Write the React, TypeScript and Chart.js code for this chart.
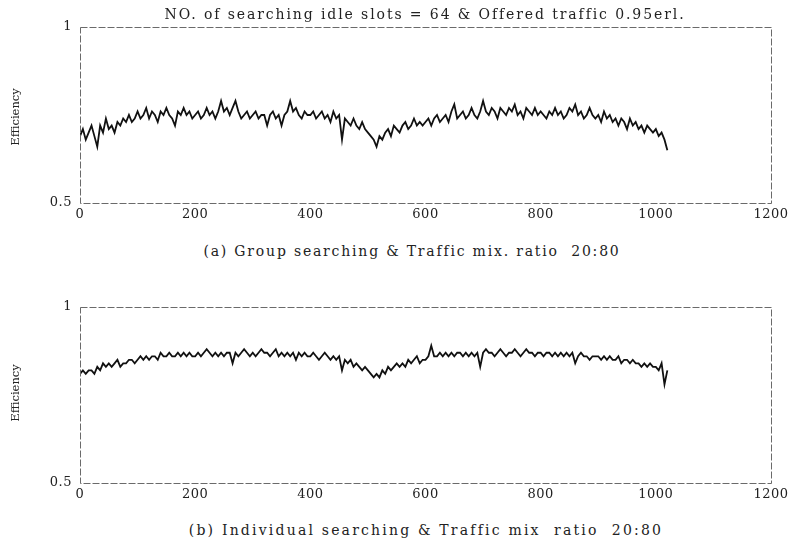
import React, { useEffect, useRef } from "react";
import { Chart, registerables } from "chart.js";

Chart.register(...registerables);

const TITLE = "NO. of searching idle slots = 64 & Offered traffic 0.95erl.";
const CAPTION_A = "(a) Group searching & Traffic mix. ratio  20:80";
const CAPTION_B = "(b) Individual searching & Traffic mix  ratio  20:80";
const Y_LABEL = "Efficiency";

const X_TICKS = [0, 200, 400, 600, 800, 1000, 1200];
const Y_TICKS = [0.5, 1];
const SAMPLE_STEP = 5; // slot index step between the samples

// (a) Group searching — sampled every 5 slots from 0 to 1020
const groupEff = [
  0.69, 0.71, 0.68, 0.70, 0.72, 0.69, 0.66, 0.72, 0.70, 0.74, 0.71, 0.72, 0.70, 0.73, 0.72, 0.74, 0.73, 0.75, 0.73, 0.74,
  0.76, 0.74, 0.75, 0.77, 0.74, 0.76, 0.75, 0.73, 0.76, 0.75, 0.77, 0.75, 0.74, 0.72, 0.76, 0.75, 0.77, 0.75, 0.76, 0.74,
  0.75, 0.76, 0.74, 0.75, 0.77, 0.75, 0.76, 0.74, 0.76, 0.79, 0.76, 0.77, 0.75, 0.77, 0.79, 0.76, 0.74, 0.75, 0.76, 0.74,
  0.75, 0.76, 0.74, 0.75, 0.75, 0.72, 0.75, 0.76, 0.74, 0.75, 0.72, 0.75, 0.76, 0.79, 0.76, 0.77, 0.75, 0.74, 0.76, 0.75,
  0.75, 0.76, 0.74, 0.75, 0.76, 0.74, 0.75, 0.73, 0.76, 0.74, 0.75, 0.68, 0.74, 0.73, 0.72, 0.74, 0.72, 0.71, 0.73, 0.71,
  0.70, 0.69, 0.68, 0.66, 0.69, 0.68, 0.70, 0.71, 0.69, 0.72, 0.71, 0.70, 0.72, 0.73, 0.71, 0.72, 0.74, 0.72, 0.73, 0.72,
  0.73, 0.74, 0.72, 0.74, 0.75, 0.73, 0.74, 0.75, 0.73, 0.76, 0.78, 0.74, 0.75, 0.76, 0.74, 0.75, 0.77, 0.75, 0.74, 0.76,
  0.79, 0.76, 0.75, 0.77, 0.76, 0.74, 0.77, 0.76, 0.75, 0.77, 0.76, 0.78, 0.75, 0.76, 0.74, 0.77, 0.76, 0.75, 0.77, 0.75,
  0.76, 0.75, 0.74, 0.76, 0.75, 0.77, 0.75, 0.76, 0.74, 0.75, 0.77, 0.76, 0.78, 0.75, 0.76, 0.74, 0.75, 0.77, 0.75, 0.74,
  0.75, 0.73, 0.76, 0.74, 0.75, 0.73, 0.74, 0.72, 0.74, 0.73, 0.71, 0.74, 0.72, 0.73, 0.71, 0.72, 0.70, 0.72, 0.71, 0.70,
  0.71, 0.69, 0.70, 0.68, 0.65,
];

// (b) Individual searching — sampled every 5 slots from 0 to 1020
const indivEff = [
  0.81, 0.82, 0.81, 0.82, 0.82, 0.81, 0.83, 0.82, 0.84, 0.83, 0.84, 0.83, 0.84, 0.85, 0.83, 0.84, 0.84, 0.85, 0.85, 0.84,
  0.85, 0.86, 0.85, 0.86, 0.85, 0.86, 0.86, 0.85, 0.87, 0.86, 0.86, 0.87, 0.86, 0.86, 0.87, 0.86, 0.87, 0.86, 0.87, 0.86,
  0.86, 0.87, 0.86, 0.87, 0.88, 0.87, 0.86, 0.87, 0.86, 0.87, 0.86, 0.87, 0.87, 0.84, 0.87, 0.86, 0.87, 0.88, 0.87, 0.86,
  0.87, 0.86, 0.87, 0.88, 0.87, 0.87, 0.86, 0.87, 0.88, 0.86, 0.87, 0.86, 0.87, 0.86, 0.87, 0.85, 0.87, 0.86, 0.87, 0.86,
  0.86, 0.87, 0.86, 0.85, 0.86, 0.87, 0.86, 0.85, 0.86, 0.85, 0.86, 0.82, 0.85, 0.84, 0.85, 0.83, 0.84, 0.83, 0.82, 0.83,
  0.82, 0.81, 0.80, 0.81, 0.80, 0.82, 0.81, 0.83, 0.82, 0.83, 0.84, 0.83, 0.84, 0.83, 0.85, 0.84, 0.85, 0.86, 0.84, 0.85,
  0.85, 0.86, 0.89, 0.86, 0.86, 0.87, 0.86, 0.87, 0.86, 0.87, 0.86, 0.87, 0.87, 0.86, 0.87, 0.86, 0.87, 0.86, 0.87, 0.83,
  0.87, 0.88, 0.87, 0.87, 0.86, 0.87, 0.88, 0.87, 0.86, 0.87, 0.87, 0.88, 0.87, 0.86, 0.87, 0.88, 0.87, 0.87, 0.86, 0.87,
  0.87, 0.86, 0.87, 0.87, 0.86, 0.87, 0.86, 0.87, 0.86, 0.87, 0.86, 0.87, 0.84, 0.86, 0.87, 0.86, 0.86, 0.85, 0.86, 0.86,
  0.86, 0.85, 0.86, 0.85, 0.86, 0.85, 0.85, 0.86, 0.84, 0.85, 0.85, 0.84, 0.85, 0.84, 0.84, 0.83, 0.84, 0.83, 0.84, 0.83,
  0.83, 0.82, 0.84, 0.78, 0.82,
];

const FONT = "'DejaVu Serif', 'Liberation Serif', serif";
const CANVAS_W = 794;
const CANVAS_H = 230;

const frameAndSpacing = {
  id: "frameAndSpacing",
  beforeDraw(chart: any) {
    (chart.ctx as any).letterSpacing = "0.5px";
  },
  afterDraw(chart: any) {
    const { ctx, chartArea } = chart;
    ctx.save();
    ctx.strokeStyle = "#6a6a6a";
    ctx.lineWidth = 1;
    ctx.setLineDash([7, 2]);
    ctx.strokeRect(
      Math.round(chartArea.left) + 0.5,
      Math.round(chartArea.top) + 0.5,
      Math.round(chartArea.right - chartArea.left),
      Math.round(chartArea.bottom - chartArea.top)
    );
    ctx.restore();
  },
};

function makeConfig(values: number[]): any {
  const points = values.map((v, i) => ({ x: i * SAMPLE_STEP, y: v }));
  return {
    type: "line",
    data: {
      datasets: [
        {
          data: points,
          borderColor: "#111",
          borderWidth: 1.8,
          pointRadius: 0,
          tension: 0,
          fill: false,
        },
      ],
    },
    options: {
      responsive: false,
      animation: false,
      devicePixelRatio: 1,
      layout: { padding: { left: 0, right: 23, top: 27, bottom: 0 } },
      plugins: { legend: { display: false }, tooltip: { enabled: false }, title: { display: false } },
      scales: {
        x: {
          type: "linear",
          min: X_TICKS[0],
          max: X_TICKS[X_TICKS.length - 1],
          afterBuildTicks: (s: any) => {
            s.ticks = X_TICKS.map((v) => ({ value: v }));
          },
          afterFit: (s: any) => {
            s.height = 27;
          },
          grid: { display: false, drawTicks: false },
          border: { display: false },
          ticks: {
            padding: 4,
            color: "#222",
            font: { family: FONT, size: 13 },
            maxRotation: 0,
            autoSkip: false,
            callback: (v: any) => String(v),
          },
        },
        y: {
          type: "linear",
          min: Y_TICKS[0],
          max: Y_TICKS[Y_TICKS.length - 1],
          afterBuildTicks: (s: any) => {
            s.ticks = Y_TICKS.map((v) => ({ value: v }));
          },
          afterFit: (s: any) => {
            s.width = 80;
          },
          grid: { display: false, drawTicks: false },
          border: { display: false },
          ticks: {
            padding: 8,
            color: "#222",
            font: { family: FONT, size: 13 },
            callback: (v: any) => String(v),
          },
        },
      },
    },
    plugins: [frameAndSpacing],
  };
}

function Panel({ values, top }: { values: number[]; top: number }) {
  const ref = useRef<HTMLCanvasElement | null>(null);
  useEffect(() => {
    if (!ref.current) return;
    const chart = new Chart(ref.current, makeConfig(values));
    return () => chart.destroy();
  }, [values]);
  return (
    <canvas
      ref={ref}
      width={CANVAS_W}
      height={CANVAS_H}
      style={{ position: "absolute", left: 0, top, width: CANVAS_W, height: CANVAS_H }}
    />
  );
}

const textStyle: React.CSSProperties = {
  position: "absolute",
  fontFamily: FONT,
  color: "#222",
  whiteSpace: "pre",
  lineHeight: "1",
};

function CenteredText({ text, cx, cy, size, spacing }: { text: string; cx: number; cy: number; size: number; spacing: number }) {
  return (
    <div
      style={{
        ...textStyle,
        left: cx,
        top: cy,
        fontSize: size,
        letterSpacing: spacing,
        transform: "translate(-50%, -50%)",
      }}
    >
      {text}
    </div>
  );
}

function YLabel({ cx, cy }: { cx: number; cy: number }) {
  return (
    <div
      style={{
        ...textStyle,
        left: cx,
        top: cy,
        fontSize: 11.5,
        letterSpacing: 0,
        transform: "translate(-50%, -50%) rotate(-90deg)",
      }}
    >
      {Y_LABEL}
    </div>
  );
}

export default function App() {
  return (
    <div
      style={{
        position: "fixed",
        left: 0,
        top: 0,
        width: 794,
        height: 545,
        background: "#fff",
        overflow: "hidden",
      }}
    >
      <Panel values={groupEff} top={0} />
      <Panel values={indivEff} top={280} />
      <CenteredText text={TITLE} cx={425} cy={14} size={14} spacing={1.9} />
      <CenteredText text={CAPTION_A} cx={412} cy={251} size={14} spacing={1.8} />
      <CenteredText text={CAPTION_B} cx={426} cy={530} size={14} spacing={2.2} />
      <YLabel cx={16} cy={117} />
      <YLabel cx={16} cy={393} />
    </div>
  );
}
